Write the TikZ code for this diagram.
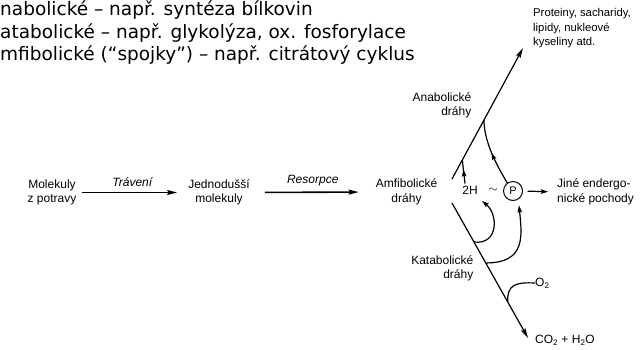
\documentclass[tikz,border=0pt]{standalone}
\usepackage{fontspec}
\setmainfont{Liberation Sans}
\newfontfamily\notefont{DejaVu Sans}
\usetikzlibrary{arrows.meta,calc,decorations.markings}
\begin{document}
\begin{tikzpicture}[x=1pt,y=-1pt,
  lbl/.style={inner sep=0pt, align=center, font=\fontsize{12}{14.5}\selectfont},
  note/.style={inner sep=0pt, anchor=base west, font=\notefont\fontsize{18.5}{22}\selectfont},
  mainarrow/.style={line width=1.6pt, -{Stealth[length=10pt,width=5pt,inset=1.5pt]}},
  route/.style={line width=1.2pt},
  tip/.style={-{Stealth[length=7pt,width=4.5pt,inset=1pt]}},
  midtip/.style={postaction={decorate}, decoration={markings,
      mark=at position #1 with {\arrow{Stealth[length=7pt,width=4.5pt,inset=1pt]}}}}
]
\useasboundingbox (0,0) rectangle (644,349);

% legend lines
\node[note] (l1) at (0,15.5) {nabolické – např. syntéza bílkovin};
\node[note] (l2) at (0,38) {atabolické – např. glykolýza, ox. fosforylace};
\node[note] (l3) at (0,60.5) {mfibolické (“spojky”) – např. citrátový cyklus};

% main chain
\node[lbl] (mol) at (52,192.5) {Molekuly\\z potravy};
\node[lbl] (jed) at (219,192.5) {Jednodušší\\molekuly};
\node[lbl] (amf) at (406.5,192) {Amfibolické\\dráhy};

\draw[mainarrow, shorten <=5.5pt, shorten >=11pt] (mol.east) -- node[lbl, above=5pt, font=\fontsize{12}{14}\selectfont\itshape] (trav) {Trávení} (jed.west);
\draw[mainarrow, shorten <=15pt, shorten >=17pt] (jed.east) -- node[lbl, above=5pt, font=\fontsize{12}{14}\selectfont\itshape] (res) {Resorpce} (amf.west);

% anabolic and catabolic pathways
\coordinate (aS) at (452,179);
\coordinate (aE) at (523,48);
\coordinate (cS) at (452,203);
\coordinate (cE) at (528,338);
\draw[route, -{Stealth[length=10pt,width=5pt,inset=1.5pt]}] (aS) -- (aE);
\draw[route, -{Stealth[length=10pt,width=5pt,inset=1.5pt]}] (cS) -- (cE);

\node[lbl, align=right, anchor=east] (ana) at (471.5,105.5) {Anabolické\\dráhy};
\node[lbl, align=right, anchor=east] (kat) at (473.5,268.5) {Katabolické\\dráhy};
\node[lbl, align=left, anchor=west, font=\fontsize{11.3}{14.5}\selectfont] (prot) at (533,28.5) {Proteiny, sacharidy,\\lipidy, nukleové\\kyseliny atd.};
\node[lbl, align=left, anchor=west] (co2) at (535,340) {CO\textsubscript{2} + H\textsubscript{2}O};
\node[lbl, align=left, anchor=west] (o2) at (535,283) {O\textsubscript{2}};

% energy carriers
\node[lbl] (h2) at (470,190) {2H};
\node[lbl] (sim) at (493,190) {$\sim$};
\node[draw, circle, line width=1pt, minimum size=19pt, inner sep=0pt, font=\fontsize{11}{13}\selectfont] (P) at (513,191) {P};
\node[lbl, align=left, anchor=west] (jine) at (557,192) {Jiné endergo-\\nické pochody};
\draw[route, tip, shorten <=4.5pt, shorten >=9pt] (P.east) -- (jine.west);

% branch points on the pathways
\coordinate (a2) at ($(aS)!0.145!(aE)$);
\coordinate (ap) at ($(aS)!0.45!(aE)$);
\coordinate (c1) at ($(cS)!0.289!(cE)$);
\coordinate (c2) at ($(cS)!0.444!(cE)$);
\coordinate (c3) at ($(cS)!0.733!(cE)$);

\draw[route, midtip=0.6] ([xshift=-5pt,yshift=2pt]h2.north) -- (a2);
\draw[route, midtip=0.5] (P.125) .. controls (497,166) and (484,142) .. (ap);
\draw[route, tip] (c1) .. controls (499,245) and (498,214) .. (482,201);
\draw[route, tip, shorten >=6pt] (c2) .. controls (526,263) and (522,236) .. (P.-57);
\draw[route] (c3) .. controls (507,285) and (515,282) .. (o2.west);
\end{tikzpicture}
\end{document}
